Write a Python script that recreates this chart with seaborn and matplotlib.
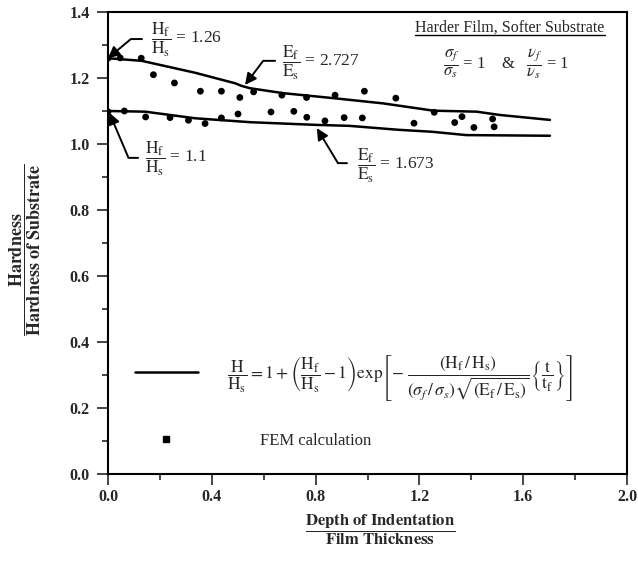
import matplotlib
matplotlib.use("Agg")
import matplotlib.pyplot as plt
from matplotlib.lines import Line2D
import seaborn as sns
import pandas as pd

# analytic curves
upper_x = [0, 0.13, 0.335, 0.49, 0.515, 0.547, 0.676, 0.88, 1.061, 1.254, 1.42, 1.51, 1.703]
upper_y = [1.26, 1.252, 1.216, 1.184, 1.176, 1.169, 1.154, 1.138, 1.123, 1.101, 1.098, 1.088, 1.073]
lower_x = [0, 0.143, 0.335, 0.55, 0.8, 0.93, 1.12, 1.25, 1.38, 1.703]
lower_y = [1.1, 1.098, 1.078, 1.066, 1.058, 1.055, 1.043, 1.037, 1.027, 1.025]

# FEM points
fem_hi_x = [0, 0.047, 0.128, 0.175, 0.256, 0.356, 0.437, 0.508, 0.561, 0.67, 0.765,
            0.875, 0.988, 1.109, 1.257, 1.364, 1.482]
fem_hi_y = [1.26, 1.261, 1.26, 1.21, 1.185, 1.16, 1.16, 1.141, 1.158, 1.148, 1.141,
            1.148, 1.16, 1.139, 1.096, 1.083, 1.076]
fem_lo_x = [0, 0.063, 0.145, 0.239, 0.31, 0.374, 0.437, 0.501, 0.628, 0.716, 0.766,
            0.836, 0.91, 0.98, 1.179, 1.336, 1.41, 1.488]
fem_lo_y = [1.098, 1.1, 1.082, 1.08, 1.072, 1.062, 1.079, 1.091, 1.097, 1.099, 1.081,
            1.07, 1.08, 1.079, 1.063, 1.065, 1.05, 1.052]

x_ticks = [0.0, 0.4, 0.8, 1.2, 1.6, 2.0]
y_ticks = [0.0, 0.2, 0.4, 0.6, 0.8, 1.0, 1.2, 1.4]

sns.set_style("ticks")
plt.rcParams["font.family"] = ["Liberation Serif", "DejaVu Serif"]
plt.rcParams["mathtext.fontset"] = "stix"

curves = pd.concat([
    pd.DataFrame({"x": upper_x, "y": upper_y, "case": "2.727"}),
    pd.DataFrame({"x": lower_x, "y": lower_y, "case": "1.673"}),
])
fem = pd.concat([
    pd.DataFrame({"x": fem_hi_x, "y": fem_hi_y, "case": "2.727"}),
    pd.DataFrame({"x": fem_lo_x, "y": fem_lo_y, "case": "1.673"}),
])

fig = plt.figure(figsize=(6.38, 5.77), dpi=100)
ax = fig.add_axes([0.1693, 0.1785, 0.8135, 0.8007])

sns.lineplot(data=curves, x="x", y="y", units="case", estimator=None, sort=False,
             color="black", lw=1.8, ax=ax, legend=False)
sns.scatterplot(data=fem, x="x", y="y", color="black", s=24, edgecolor="none",
                ax=ax, legend=False, zorder=3)

ax.set_xlim(0, 2.0)
ax.set_ylim(0, 1.4)
ax.set_xticks(x_ticks)
ax.set_yticks(y_ticks)
ax.set_xticks([0.2, 0.6, 1.0, 1.4, 1.8], minor=True)
ax.set_yticks([0.1, 0.3, 0.5, 0.7, 0.9, 1.1, 1.3], minor=True)
ax.set_xticklabels([f"{v:.1f}" for v in x_ticks])
ax.set_yticklabels([f"{v:.1f}" for v in y_ticks])
ax.tick_params(which="major", direction="out", length=8, width=1.2, labelsize=11.5)
ax.tick_params(which="minor", direction="out", length=4, width=1.2)
ax.tick_params(axis="x", pad=3)
ax.tick_params(axis="y", pad=5)
plt.setp(ax.get_xticklabels() + ax.get_yticklabels(), fontweight="bold")
for sp in ax.spines.values():
    sp.set_linewidth(1.5)
    sp.set_color("black")

ax.set_xlabel(r"$\dfrac{\mathbf{Depth\ of\ Indentation}}{\mathbf{Film\ Thickness}}$", fontsize=12)
ax.xaxis.set_label_coords(0.524, -0.085)
ax.set_ylabel(r"$\dfrac{\mathbf{Hardness}}{\mathbf{Hardness\ of\ Substrate}}$", fontsize=13)
ax.yaxis.set_label_coords(-0.125, 0.485)

# annotations
title_txt = ax.text(1.549, 1.352, "Harder Film, Softer Substrate", fontsize=11.5,
                    ha="center", va="center")
ax.text(1.291, 1.245, r"$\dfrac{\sigma_f}{\sigma_s}$ = 1    &   $\dfrac{\nu_f}{\nu_s}$ = 1",
        fontsize=12, ha="left", va="center")

labels = [
    (r"$\dfrac{\mathrm{H_f}}{\mathrm{H_s}}$ = 1.26", (0.165, 1.315), (0.131, 1.318), (0.0, 1.26), 40),
    (r"$\dfrac{\mathrm{E_f}}{\mathrm{E_s}}$ = 2.727", (0.67, 1.245), (0.644, 1.252), (0.528, 1.179), 53),
    (r"$\dfrac{\mathrm{H_f}}{\mathrm{H_s}}$ = 1.1", (0.143, 0.955), (0.116, 0.958), (0.005, 1.095), -67),
    (r"$\dfrac{\mathrm{E_f}}{\mathrm{E_s}}$ = 1.673", (0.96, 0.935), (0.921, 0.942), (0.805, 1.048), -59),
]
for txt, tpos, start, tip, ang in labels:
    ax.text(tpos[0], tpos[1], txt, fontsize=12.5, ha="left", va="center")
    ax.annotate("", xy=tip, xytext=start,
                arrowprops=dict(arrowstyle="-|>", color="black", lw=1.4, mutation_scale=17,
                                shrinkA=0, shrinkB=0,
                                connectionstyle=f"angle,angleA=0,angleB={ang},rad=0"))

eq = (r"$\dfrac{\mathrm{H}}{\mathrm{H_s}} = 1 + \left(\dfrac{\mathrm{H_f}}{\mathrm{H_s}} - 1\right)"
      r"\mathrm{exp}\left[-\;\dfrac{(\mathrm{H_f}\,/\,\mathrm{H_s})}"
      r"{(\sigma_f\,/\,\sigma_s)\sqrt{(\mathrm{E_f}\,/\,\mathrm{E_s})}}"
      r"\left\{\dfrac{\mathrm{t}}{\mathrm{t_f}}\right\}\right]$")
leg1 = ax.legend(handles=[Line2D([], [], color="black", lw=1.8)], labels=[eq],
                 loc="center left", bbox_to_anchor=(0.052, 0.208), frameon=False,
                 borderpad=0, borderaxespad=0, handlelength=3.6, handletextpad=1.7,
                 fontsize=12.5)
ax.add_artist(leg1)
ax.legend(handles=[Line2D([], [], ls="none", marker="s", color="black", markersize=5)],
          labels=["FEM calculation"], loc="center left", bbox_to_anchor=(0.052, 0.071),
          frameon=False, borderpad=0, borderaxespad=0, handlelength=3.7,
          handletextpad=3.8, fontsize=12)

# underline for the heading
fig.canvas.draw()
bb = title_txt.get_window_extent().transformed(fig.transFigure.inverted())
fig.add_artist(Line2D([bb.x0, bb.x1], [bb.y0 + 0.002] * 2, transform=fig.transFigure,
                      color="black", lw=1.0))

fig.savefig("out.png", dpi=100)
